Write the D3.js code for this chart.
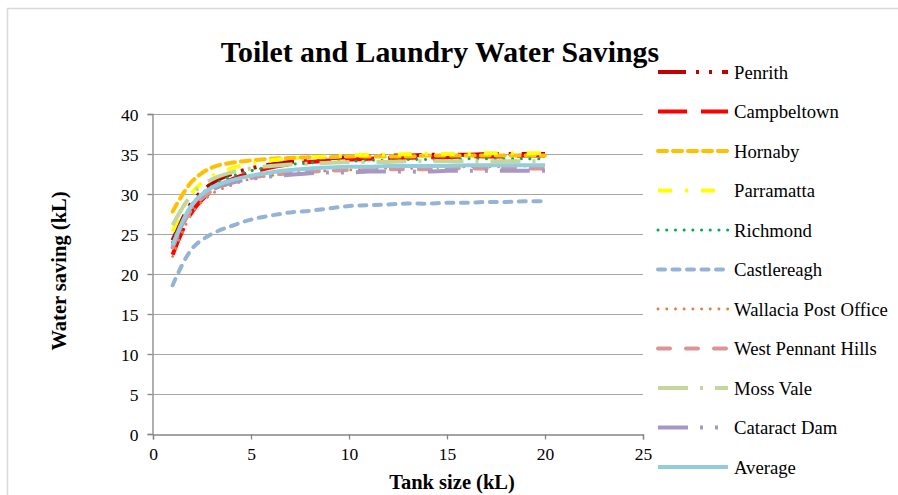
<!DOCTYPE html>
<html>
<head>
<meta charset="utf-8">
<script src="https://cdn.jsdelivr.net/npm/d3@7"></script>
<style>
  html, body { margin: 0; padding: 0; background: #fff; }
  svg { display: block; }
  text { font-family: "Liberation Serif", "Times New Roman", serif; fill: #000; }
</style>
</head>
<body>
<svg id="chart" width="898" height="495"></svg>
<script>
// Tank sizes (kL) at which savings were simulated
const tankSizes = [1,2,3,4,5,6,7,8,9,10,11,12,13,14,15,16,17,18,19,20];

// Annual toilet + laundry water savings (kL) per site
const penrith      = [24.2,29.0,31.3,32.5,33.2,33.7,34.0,34.3,34.5,34.6,34.7,34.8,34.8,34.9,34.9,34.9,35.0,35.0,35.0,35.0];
const campbeltown  = [22.4,27.8,30.4,31.8,32.7,33.3,33.7,34.0,34.2,34.3,34.4,34.5,34.5,34.6,34.6,34.7,34.7,34.7,34.8,34.8];
const hornaby      = [27.8,31.6,33.3,33.9,34.2,34.4,34.5,34.6,34.6,34.7,34.7,34.7,34.7,34.8,34.8,34.8,34.8,34.8,34.8,34.8];
const parramatta   = [25.3,30.2,32.2,33.2,33.8,34.2,34.4,34.6,34.7,34.8,34.9,34.9,35.0,35.0,35.0,35.0,35.1,35.1,35.1,35.1];
const richmond     = [24.0,28.8,31.0,32.2,32.9,33.4,33.7,33.9,34.0,34.1,34.2,34.2,34.3,34.3,34.3,34.4,34.4,34.4,34.4,34.4];
const castlereagh  = [18.6,23.2,25.0,26.0,26.8,27.3,27.7,27.9,28.2,28.5,28.6,28.7,28.8,28.8,28.9,28.9,29.0,29.0,29.1,29.1];
const wallacia     = [22.2,27.6,30.0,31.1,31.9,32.3,32.6,32.8,32.9,33.0,33.1,33.2,33.2,33.3,33.3,33.4,33.4,33.4,33.5,33.5];
const westPennant  = [23.3,28.2,30.4,31.4,32.0,32.4,32.6,32.8,32.9,33.0,33.0,33.1,33.1,33.1,33.2,33.2,33.2,33.2,33.2,33.2];
const mossVale     = [26.1,30.0,31.8,32.7,33.2,33.5,33.7,33.8,33.9,34.0,34.0,34.0,34.1,34.1,34.1,34.1,34.1,34.1,34.1,34.1];
const cataractDam  = [23.5,28.4,30.5,31.4,31.9,32.2,32.4,32.6,32.7,32.7,32.8,32.8,32.8,32.8,32.9,32.9,32.9,32.9,32.9,32.9];
const average      = [23.6,28.7,30.8,31.7,32.3,32.7,33.0,33.2,33.3,33.4,33.4,33.5,33.5,33.5,33.5,33.6,33.6,33.6,33.6,33.6];

const seriesNames  = ["Penrith","Campbeltown","Hornaby","Parramatta","Richmond","Castlereagh",
                      "Wallacia Post Office","West Pennant Hills","Moss Vale","Cataract Dam","Average"];
const seriesValues = [penrith,campbeltown,hornaby,parramatta,richmond,castlereagh,
                      wallacia,westPennant,mossVale,cataractDam,average];

const xTicks = [0,5,10,15,20,25];
const yTicks = [0,5,10,15,20,25,30,35,40];

// Stroke styles per series
const styles = [
  { color: "#C00000", width: 4,   dash: "28,10,3,10,3,10", cap: "butt" },
  { color: "#FF0000", width: 4,   dash: "29,14",          cap: "butt" },
  { color: "#FFC000", width: 4,   dash: "9,6",            cap: "round" },
  { color: "#FFFF00", width: 4,   dash: "14,13,3,13",      cap: "butt" },
  { color: "#00B050", width: 3,   dash: "0.1,8.6",        cap: "round" },
  { color: "#95B3D7", width: 4,   dash: "7,7.5",          cap: "round" },
  { color: "#E4803C", width: 2.8, dash: "0.1,8.6",        cap: "round" },
  { color: "#D99694", width: 4,   dash: "12,16",          cap: "round" },
  { color: "#C3D69B", width: 4,   dash: "30,12,3,12",      cap: "butt" },
  { color: "#A797C6", width: 4,   dash: "30,12,3,12,3,12", cap: "butt" },
  { color: "#93CDDD", width: 4,   dash: null,             cap: "butt" }
];

const svg = d3.select("#chart");

// Outer chart frame
svg.append("path")
  .attr("d", "M7.5,498 V8.5 H900")
  .attr("fill", "none")
  .attr("stroke", "#D9D9D9")
  .attr("stroke-width", 1.5);

const plot = { left: 153, right: 643, top: 114, bottom: 434 };

const x = d3.scaleLinear().domain([0, 25]).range([plot.left, plot.right]);
const y = d3.scaleLinear().domain([0, 40]).range([plot.bottom, plot.top]);

// Horizontal gridlines
svg.append("g")
  .selectAll("line")
  .data(yTicks.filter(d => d > 0))
  .join("line")
  .attr("x1", plot.left).attr("x2", plot.right)
  .attr("y1", d => y(d) + 0.5).attr("y2", d => y(d) + 0.5)
  .attr("stroke", "#A6A6A6")
  .attr("stroke-width", 1.2);

// Axes
const xAxis = svg.append("g")
  .attr("transform", `translate(0,${plot.bottom + 0.5})`)
  .call(d3.axisBottom(x).tickValues(xTicks).tickSize(5).tickPadding(4).tickFormat(d3.format("d")));
const yAxis = svg.append("g")
  .attr("transform", `translate(${plot.left - 0.5},0)`)
  .call(d3.axisLeft(y).tickValues(yTicks).tickSize(5).tickPadding(9).tickFormat(d3.format("d")));

[xAxis, yAxis].forEach(a => {
  a.select(".domain").attr("stroke", "#868686").attr("stroke-width", 1.3);
  a.selectAll(".tick line").attr("stroke", "#868686").attr("stroke-width", 1.3);
  a.selectAll(".tick text")
    .attr("font-family", "Liberation Serif, Times New Roman, serif")
    .attr("font-size", 17.5).attr("fill", "#000");
});
xAxis.selectAll(".tick text").attr("dy", "0.95em");
yAxis.selectAll(".tick text").attr("dy", "0.35em");

// Series lines (smoothed)
const line = d3.line()
  .x((d, i) => x(tankSizes[i]))
  .y(d => y(d))
  .curve(d3.curveCatmullRom.alpha(0.5));

const lines = svg.append("g");
seriesValues.forEach((vals, i) => {
  const s = styles[i];
  lines.append("path")
    .datum(vals)
    .attr("d", line)
    .attr("fill", "none")
    .attr("stroke", s.color)
    .attr("stroke-width", s.width)
    .attr("stroke-linecap", s.cap)
    .attr("stroke-linejoin", "round")
    .attr("stroke-dasharray", s.dash);
});

// Title
svg.append("text")
  .attr("x", 440).attr("y", 62)
  .attr("text-anchor", "middle")
  .attr("font-size", 29.8).attr("font-weight", "bold")
  .text("Toilet and Laundry Water Savings");

// Axis titles
svg.append("text")
  .attr("x", 452).attr("y", 489)
  .attr("text-anchor", "middle")
  .attr("font-size", 20.5).attr("font-weight", "bold")
  .text("Tank size (kL)");

svg.append("text")
  .attr("transform", "translate(66,271) rotate(-90)")
  .attr("text-anchor", "middle")
  .attr("font-size", 20.5).attr("font-weight", "bold")
  .text("Water saving (kL)");

// Legend
const legend = svg.append("g");
const legendTop = 72, legendStep = 39.5;
seriesNames.forEach((name, i) => {
  const s = styles[i];
  const ly = legendTop + i * legendStep;
  legend.append("line")
    .attr("x1", 658).attr("x2", 728)
    .attr("y1", ly).attr("y2", ly)
    .attr("stroke", s.color)
    .attr("stroke-width", s.width)
    .attr("stroke-linecap", s.cap)
    .attr("stroke-dasharray", s.dash);
  legend.append("text")
    .attr("x", 734).attr("y", ly)
    .attr("dy", "0.35em")
    .attr("font-size", 18.7)
    .text(name);
});
</script>
</body>
</html>
